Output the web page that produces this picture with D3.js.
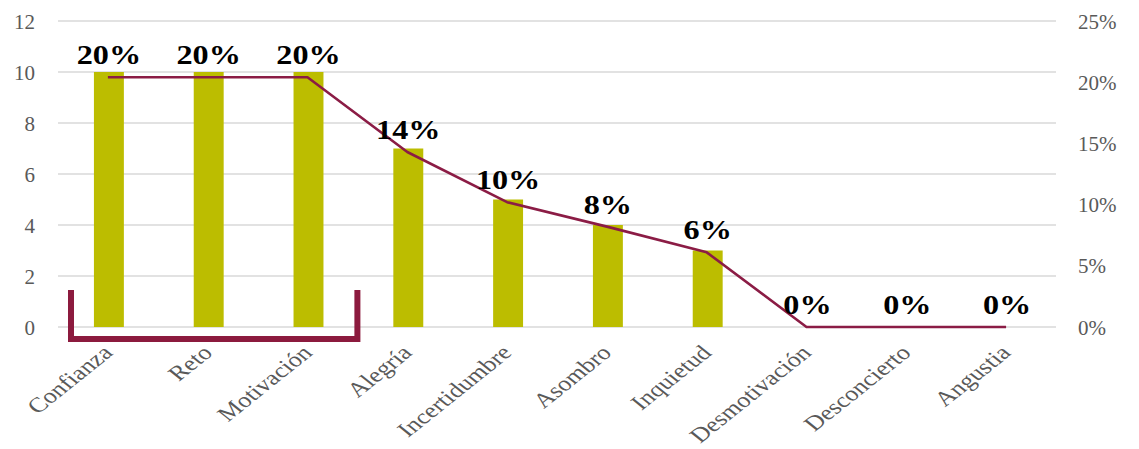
<!DOCTYPE html>
<html>
<head>
<meta charset="utf-8">
<script src="https://cdn.jsdelivr.net/npm/d3@7"></script>
<style>
  html, body { margin: 0; padding: 0; background: #fff; }
  svg { display: block; }
</style>
</head>
<body>
<svg id="chart" width="1139" height="449"></svg>
<script>
const categories = ["Confianza", "Reto", "Motivación", "Alegría", "Incertidumbre", "Asombro", "Inquietud", "Desmotivación", "Desconcierto", "Angustia"];
const counts = [10, 10, 10, 7, 5, 4, 3, 0, 0, 0];
const percents = [0.204, 0.204, 0.204, 0.143, 0.102, 0.082, 0.061, 0, 0, 0];
const leftTicks = [0, 2, 4, 6, 8, 10, 12];
const rightTicks = [0, 0.05, 0.10, 0.15, 0.20, 0.25];
const bracketCats = ["Confianza", "Motivación"];

const svg = d3.select("#chart");
const W = 1139, H = 449;
const m = { left: 58, right: W - 1056, top: 21, bottom: H - 327 };

const x = d3.scaleBand().domain(categories).range([m.left, W - m.right]).padding(0);
const yL = d3.scaleLinear().domain([0, 12]).range([H - m.bottom, m.top]);
const yR = d3.scaleLinear().domain([0, 0.25]).range([H - m.bottom, m.top]);

const serif = "'Liberation Serif', 'Times New Roman', serif";
const gray = "#595959";

// gridlines
svg.append("g").selectAll("line").data(leftTicks).join("line")
  .attr("x1", m.left).attr("x2", W - m.right)
  .attr("y1", d => yL(d)).attr("y2", d => yL(d))
  .attr("stroke", "#d9d9d9").attr("stroke-width", 1.5);

// left axis labels
const leftAxis = d3.axisLeft(yL).tickValues(leftTicks).tickSize(0).tickPadding(0);
const gL = svg.append("g").attr("transform", "translate(35,0)").call(leftAxis);
gL.select(".domain").remove();
gL.selectAll("text").attr("font-family", serif).attr("font-size", 21).attr("fill", gray)
  .attr("dy", "0.34em").attr("x", 0);

// right axis labels
const rightAxis = d3.axisRight(yR).tickValues(rightTicks).tickSize(0).tickPadding(0).tickFormat(d3.format(".0%"));
const gR = svg.append("g").attr("transform", "translate(1078,0)").call(rightAxis);
gR.select(".domain").remove();
gR.selectAll("text").attr("font-family", serif).attr("font-size", 21).attr("fill", gray)
  .attr("dy", "0.34em").attr("x", 0);

// bars
svg.append("g").selectAll("rect").data(categories.map((c, i) => ({ c, v: counts[i] }))).join("rect")
  .attr("x", d => x(d.c) + x.bandwidth() * 0.36)
  .attr("width", x.bandwidth() * 0.3)
  .attr("y", d => yL(d.v))
  .attr("height", d => yL(0) - yL(d.v))
  .attr("fill", "#bcbd00");

// line
const pts = categories.map((c, i) => ({ c, p: percents[i] }));
const line = d3.line().x(d => x(d.c) + x.bandwidth() / 2).y(d => yR(d.p));
svg.append("path").datum(pts).attr("d", line)
  .attr("fill", "none").attr("stroke", "#8b1c45").attr("stroke-width", 2.6)
  .attr("stroke-linejoin", "round");

// data labels
svg.append("g").selectAll("text").data(pts).join("text")
  .attr("transform", d => `translate(${x(d.c) + x.bandwidth() / 2 + 1},${yR(d.p) - 13}) scale(1.15,1)`)
  .attr("text-anchor", "middle")
  .attr("font-family", serif).attr("font-weight", "bold").attr("font-size", 28)
  .attr("fill", "#000")
  .text(d => d3.format(".0%")(d.p));

// x axis labels
svg.append("g").selectAll("text").data(categories).join("text")
  .attr("transform", c => `translate(${x(c) + x.bandwidth() / 2 + 6},${yL(0) + 27}) scale(1.25,1) rotate(-45)`)
  .attr("text-anchor", "end")
  .attr("font-family", serif).attr("font-size", 21).attr("fill", gray)
  .text(c => c);

// bracket annotation
const bx0 = x(bracketCats[0]) + 13;
const bx1 = x(bracketCats[1]) + x.bandwidth();
const byTop = yL(1.45);
const byBot = yL(0) + 12;
svg.append("path")
  .attr("d", `M${bx0},${byTop} L${bx0},${byBot} L${bx1},${byBot} L${bx1},${byTop}`)
  .attr("fill", "none").attr("stroke", "#8c1a3e").attr("stroke-width", 6)
  .attr("stroke-linejoin", "miter");
</script>
</body>
</html>
